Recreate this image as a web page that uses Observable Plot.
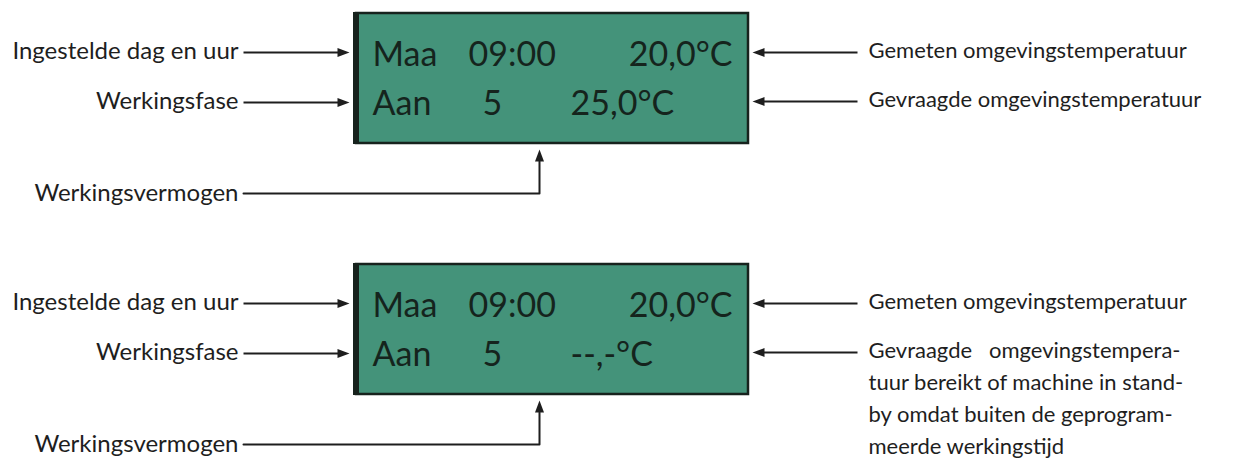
<!DOCTYPE html>
<html>
<head>
<meta charset="utf-8">
<script src="https://cdn.jsdelivr.net/npm/d3@7"></script>
<script src="https://cdn.jsdelivr.net/npm/@observablehq/plot@0.6"></script>
<style>
  html, body { margin: 0; padding: 0; background: #fff; }
  #chart { width: 1242px; height: 464px; }
</style>
</head>
<body>
<div id="chart"></div>
<script>
// ---------- content ----------
const displayRow1 = ["Maa", "09:00", "20,0°C"];
const displayRow2 = [["Aan", "5", "25,0°C"], ["Aan", "5", "--,-°C"]];
const leftLabels = ["Ingestelde dag en uur", "Werkingsfase"];
const powerLabel = "Werkingsvermogen";
const rightMeasured = "Gemeten omgevingstemperatuur";
const rightRequested = [
  ["Gevraagde omgevingstemperatuur"],
  ["Gevraagde   omgevingstempera-", "tuur bereikt of machine in stand-", "by omdat buiten de geprogram-", "meerde werkingstijd"]
];

// ---------- layout (pixels) ----------
const W = 1242, H = 464;
const panelOffsets = [0, 251];
const box = {x1: 356, x2: 748, y1: 13, y2: 143};
const row1X = [372, 468, 732], row1Anchor = ["start", "start", "end"];
const row2X = [372, 482, 570];
const rowBase = [65, 114];
const leftArrowY = [52, 102], leftTextBase = [58, 108];
const rightArrowY = [52, 101], rightTextBase = [57, 106];
const powerY = 193, powerX = 539, powerTextBase = 200;
const lineGap = 32;
const displaySize = 34, leftSize = 24, rightSize = 22;
const ink = "#1e1e1e", lcd = "#44937a", lcdInk = "#15241d", frame = "#17221d";
const font = "Lato, 'Noto Sans', sans-serif";

// ---------- build tables ----------
const boxes = [], bars = [], dispStart = [], dispEnd = [], lbl = [], rlbl = [], just = [], links = [], elbows = [];
const headsR = [], headsL = [], headsU = [];
const mid = (base, size) => base - 0.32 * size;

panelOffsets.forEach((oy, p) => {
  boxes.push({x1: box.x1, x2: box.x2, y1: box.y1 + oy, y2: box.y2 + oy});
  bars.push({x1: box.x1 - 3, x2: box.x1 + 3, y1: box.y1 - 1 + oy, y2: box.y2 + 1 + oy});
  displayRow1.forEach((t, i) => (row1Anchor[i] === "end" ? dispEnd : dispStart).push({x: row1X[i], y: mid(rowBase[0] + oy, displaySize), t}));
  displayRow2[p].forEach((t, i) => dispStart.push({x: row2X[i], y: mid(rowBase[1] + oy, displaySize), t}));
  leftLabels.forEach((t, i) => {
    lbl.push({x: 238, y: mid(leftTextBase[i] + oy, leftSize), t});
    links.push({x1: 243, x2: 340, y: leftArrowY[i] + oy});
    headsR.push({x: 349, y: leftArrowY[i] + oy});
    links.push({x1: 762, x2: 857, y: rightArrowY[i] + oy});
    headsL.push({x: 752, y: rightArrowY[i] + oy});
  });
  lbl.push({x: 238, y: mid(powerTextBase + oy, leftSize), t: powerLabel});
  elbows.push({p, x: 243, y: powerY + oy}, {p, x: powerX, y: powerY + oy}, {p, x: powerX, y: box.y2 + 18 + oy});
  headsU.push({x: powerX, y: box.y2 + 6 + oy});
  rlbl.push({x: 868, y: mid(rightTextBase[0] + oy, rightSize), t: rightMeasured});
  rightRequested[p].forEach((t, i) => {
    const d = {x: 868, y: mid(rightTextBase[1] + oy + i * lineGap, rightSize), t};
    if (rightRequested[p].length > 1 && i < rightRequested[p].length - 1) just.push(d); else rlbl.push(d);
  });
});

// filled arrowhead symbols (tip at origin)
const head = (dx, dy) => ({draw(ctx) {
  const L = 12, w = 4.5;
  ctx.moveTo(0, 0);
  ctx.lineTo(-dx * L - dy * w, -dy * L + dx * w);
  ctx.lineTo(-dx * L + dy * w, -dy * L - dx * w);
  ctx.closePath();
}});

const chart = Plot.plot({
  width: W, height: H, margin: 0,
  x: {domain: [0, W], range: [0, W], axis: null},
  y: {domain: [0, H], range: [0, H], axis: null},
  style: {background: "#fff", fontFamily: font},
  marks: [
    Plot.rect(boxes, {x1: "x1", x2: "x2", y1: "y1", y2: "y2", fill: lcd, stroke: frame, strokeWidth: 2.5}),
    Plot.rect(bars, {x1: "x1", x2: "x2", y1: "y1", y2: "y2", fill: frame}),
    Plot.text(dispStart, {x: "x", y: "y", text: "t", textAnchor: "start", fontSize: displaySize, fill: lcdInk, fontFamily: font}),
    Plot.text(dispEnd, {x: "x", y: "y", text: "t", textAnchor: "end", fontSize: displaySize, fill: lcdInk, fontFamily: font}),
    Plot.link(links, {x1: "x1", x2: "x2", y1: "y", y2: "y", stroke: ink, strokeWidth: 2}),
    Plot.line(elbows, {x: "x", y: "y", z: "p", stroke: ink, strokeWidth: 2}),
    Plot.dot(headsR, {x: "x", y: "y", symbol: head(1, 0), fill: ink, stroke: "none", r: 6}),
    Plot.dot(headsL, {x: "x", y: "y", symbol: head(-1, 0), fill: ink, stroke: "none", r: 6}),
    Plot.dot(headsU, {x: "x", y: "y", symbol: head(0, -1), fill: ink, stroke: "none", r: 6}),
    Plot.text(lbl, {x: "x", y: "y", text: "t", textAnchor: "end", fontSize: leftSize, fill: ink, fontFamily: font}),
    Plot.text(rlbl, {x: "x", y: "y", text: "t", textAnchor: "start", fontSize: rightSize, fill: ink, fontFamily: font}),
    Plot.text(just, {x: "x", y: "y", text: "t", textAnchor: "start", fontSize: rightSize, fill: ink, fontFamily: font, ariaLabel: "justified"})
  ]
});
document.getElementById("chart").appendChild(chart);
d3.select(chart).selectAll('g[aria-label="justified"] text')
  .attr("textLength", 362).attr("lengthAdjust", "spacing");
</script>
</body>
</html>
